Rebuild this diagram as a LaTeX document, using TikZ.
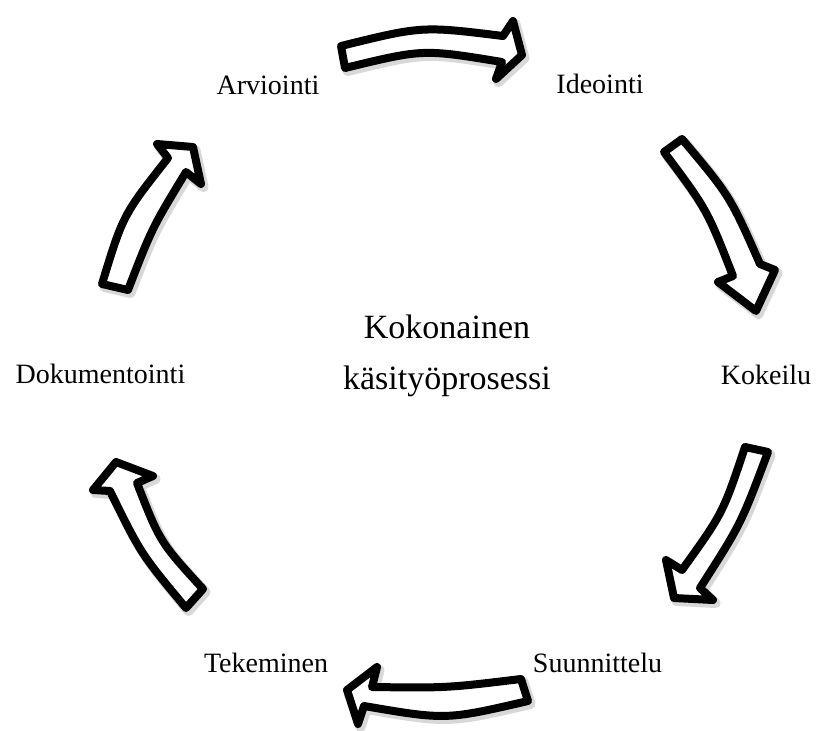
\documentclass[tikz,border=0pt]{standalone}
\usepackage{fontspec}
\setmainfont{Liberation Serif}
\newcommand\blockarrowpath[1]{%
  \path[draw=black!70, opacity=0.22, line width=10pt, line join=round, xshift=2.5pt, yshift=-3pt] #1;
  \path[draw=black, fill=white, line width=8pt, line join=round] #1;
}
\begin{document}
\begin{tikzpicture}[x=1pt,y=-1pt,
  lbl/.style={font=\fontsize{28}{34}\selectfont, anchor=base, inner sep=0pt},
  centertext/.style={font=\fontsize{34}{51}\selectfont, align=center, inner sep=0pt}]
\useasboundingbox (0,0) rectangle (817,731);
% labels
\node[lbl] (arv) at (268,94) {Arviointi};
\node[lbl] (ide) at (600,93) {Ideointi};
\node[lbl] (kok) at (766,384) {Kokeilu};
\node[lbl] (dok) at (100.5,383) {Dokumentointi};
\node[lbl] (tek) at (266,672) {Tekeminen};
\node[lbl] (suu) at (597.5,672) {Suunnittelu};
\node[centertext] (mid) at (447,355.6) {Kokonainen\\käsityöprosessi};
% block arrows
\blockarrowpath{(341,46) .. controls (422,26) .. (503,36) -- (513,21) -- (522,55) -- (496,79) -- (502,62) .. controls (423,49) .. (345,68) -- cycle}
\blockarrowpath{(664,152) .. controls (707,209.5) .. (733,276) -- (718,282) -- (756,311) -- (775,270) -- (760,264) .. controls (730,196) .. (682,139) -- cycle}
\blockarrowpath{(745,447) .. controls (723,513) .. (682,570) -- (666,560) -- (674,598) -- (713,600) -- (700,588) .. controls (741,524) .. (768,452) -- cycle}
\blockarrowpath{(521,679) .. controls (446.5,688) .. (372,687) -- (377,667) -- (347,690) -- (358,724) -- (364,706) .. controls (446,720) .. (528,701) -- cycle}
\blockarrowpath{(203,589) .. controls (160,542) .. (137,483) -- (153,476) -- (116,462) -- (93,490) -- (110,491) .. controls (141,554) .. (186,608) -- cycle}
\blockarrowpath{(102,284) .. controls (123,215) .. (168,158) -- (157,144) -- (193,147) -- (201,184) -- (186,172) .. controls (152,228) .. (128,290) -- cycle}
\end{tikzpicture}
\end{document}
